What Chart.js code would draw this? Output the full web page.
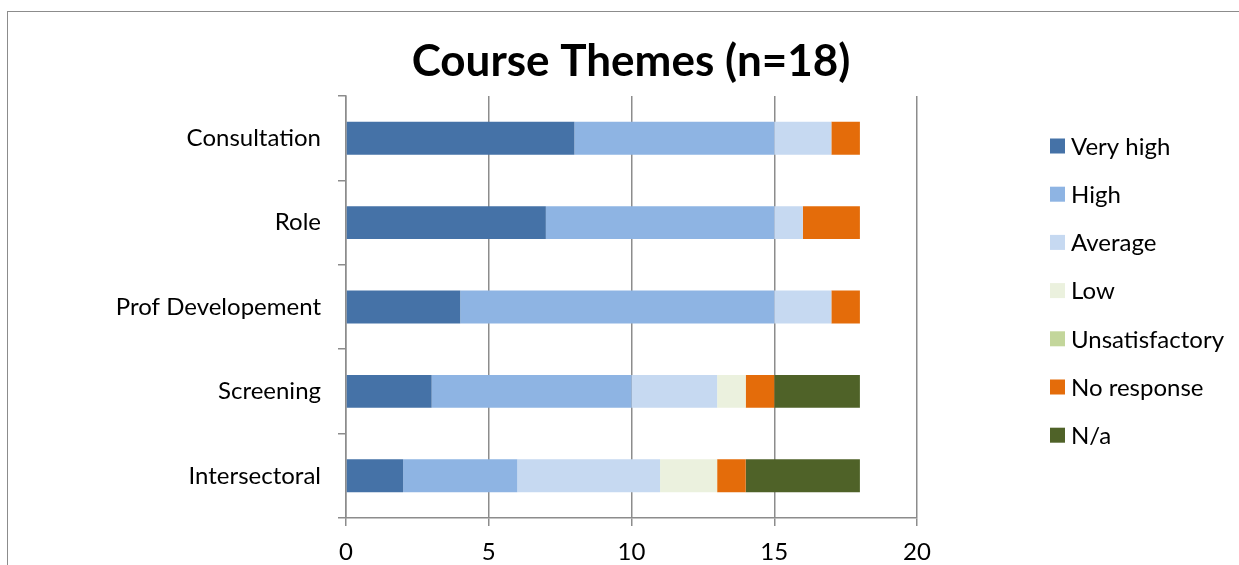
<!DOCTYPE html>
<html>
<head>
<meta charset="utf-8">
<script src="https://cdn.jsdelivr.net/npm/chart.js@4/dist/chart.umd.min.js"></script>
<style>
  html, body { margin: 0; padding: 0; background: #fff; overflow: hidden; }
  #wrap { position: relative; width: 1239px; height: 565px; }
  #frame { position: absolute; left: 7px; top: 11px; width: 1300px; height: 600px;
           border: 1.5px solid #8c8c8c; box-sizing: border-box; }
  canvas { position: absolute; left: 0; top: 0; }
</style>
</head>
<body>
<div id="wrap">
  <div id="frame"></div>
  <canvas id="chart" width="1239" height="565"></canvas>
</div>
<script>
// Survey responses per course theme (counts, n = 18)
const titleText = 'Course Themes (n=18)';
const categories = ['Consultation', 'Role', 'Prof Developement', 'Screening', 'Intersectoral'];
const seriesNames = ['Very high', 'High', 'Average', 'Low', 'Unsatisfactory', 'No response', 'N/a'];
const veryHigh       = [8, 7, 4, 3, 2];
const high           = [7, 8, 11, 7, 4];
const average        = [2, 1, 2, 3, 5];
const low            = [0, 0, 0, 1, 2];
const unsatisfactory = [0, 0, 0, 0, 0];
const noResponse     = [1, 2, 1, 1, 1];
const notApplicable  = [0, 0, 0, 3, 4];
const xTicks = [0, 5, 10, 15, 20];

const seriesValues = [veryHigh, high, average, low, unsatisfactory, noResponse, notApplicable];
const seriesColors = ['#4572A7', '#8EB4E3', '#C6D9F1', '#EBF1DE', '#C3D69B', '#E46C0A', '#4F6228'];

const FONT = 'Lato, "Open Sans", sans-serif';
const AXIS = '#8c8c8c';

// Title and right-hand legend drawn beside the plot area
const overlay = {
  id: 'overlay',
  afterDraw(chart) {
    const ctx = chart.ctx;
    const area = chart.chartArea;
    ctx.save();
    ctx.fillStyle = '#000';
    ctx.font = 'bold 44px ' + FONT;
    ctx.textAlign = 'center';
    ctx.textBaseline = 'middle';
    ctx.fillText(titleText, 631, 62);

    ctx.font = '24px ' + FONT;
    ctx.textAlign = 'left';
    const lx = area.right + 133;
    chart.data.datasets.forEach((ds, i) => {
      const y = 146 + i * 48.2;
      ctx.fillStyle = ds.backgroundColor;
      ctx.fillRect(lx, y - 7.5, 15, 15);
      ctx.fillStyle = '#000';
      ctx.fillText(ds.label, lx + 21, y + 1);
    });
    ctx.restore();
  }
};

new Chart(document.getElementById('chart'), {
  type: 'bar',
  data: {
    labels: categories,
    datasets: seriesNames.map((name, i) => ({
      label: name,
      data: seriesValues[i],
      backgroundColor: seriesColors[i],
      borderWidth: 0,
      categoryPercentage: 1,
      barPercentage: 0.39
    }))
  },
  options: {
    indexAxis: 'y',
    responsive: false,
    animation: false,
    devicePixelRatio: 1,
    layout: { padding: { top: 96, right: 322, left: 0, bottom: 0 } },
    plugins: {
      legend: { display: false },
      title: { display: false },
      tooltip: { enabled: false }
    },
    scales: {
      x: {
        stacked: true,
        min: xTicks[0],
        max: xTicks[xTicks.length - 1],
        afterBuildTicks(scale) { scale.ticks = xTicks.map(v => ({ value: v })); },
        afterFit(scale) { scale.height = 47; },
        ticks: { color: '#000', font: { family: FONT, size: 24 }, padding: 12 },
        grid: { color: AXIS, lineWidth: 1.5, tickLength: 8, drawTicks: true },
        border: { color: AXIS, width: 1.5 }
      },
      y: {
        stacked: true,
        afterFit(scale) { scale.width = 346; },
        ticks: { color: '#000', font: { family: FONT, size: 24 }, padding: 17 },
        grid: { offset: true, drawOnChartArea: false, color: AXIS, lineWidth: 1.5, tickLength: 8 },
        border: { color: AXIS, width: 1.5 }
      }
    }
  },
  plugins: [overlay]
});
</script>
</body>
</html>
